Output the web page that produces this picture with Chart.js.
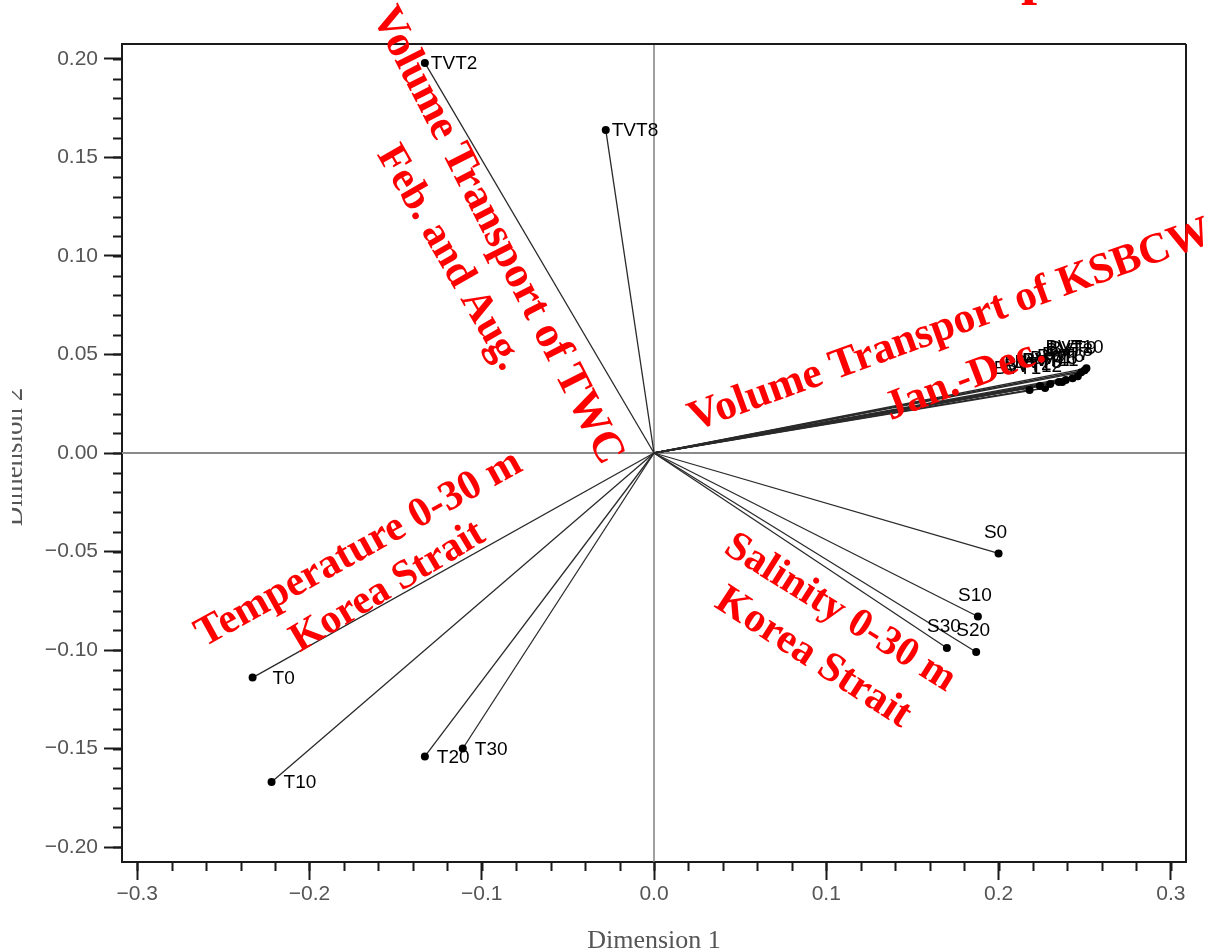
<!DOCTYPE html>
<html>
<head>
<meta charset="utf-8">
<script src="https://cdn.jsdelivr.net/npm/chart.js@4.4.1/dist/chart.umd.min.js"></script>
<style>
  html, body { margin: 0; padding: 0; background: #ffffff; }
  #wrap { width: 1212px; height: 951px; position: relative; }
</style>
</head>
<body>
<div id="wrap"><canvas id="biplot" width="1212" height="951"></canvas></div>
<script>
// Volume transport of the Tsushima Warm Current (Feb. and Aug.)
const twcNames = ['TVT2', 'TVT8'];
const twcDim1  = [-0.133, -0.028];
const twcDim2  = [0.198, 0.164];

// Temperature at 0, 10, 20, 30 m, Korea Strait
const tempNames = ['T0', 'T10', 'T20', 'T30'];
const tempDim1  = [-0.233, -0.222, -0.133, -0.111];
const tempDim2  = [-0.114, -0.167, -0.154, -0.150];

// Salinity at 0, 10, 20, 30 m, Korea Strait
const salNames = ['S0', 'S10', 'S20', 'S30'];
const salDim1  = [0.200, 0.188, 0.187, 0.170];
const salDim2  = [-0.051, -0.083, -0.101, -0.099];

// Volume transport of KSBCW, Jan.-Dec.
const ksbNames = ['BVT1', 'BVT2', 'BVT3', 'BVT4', 'BVT5', 'BVT6',
                  'BVT7', 'BVT8', 'BVT9', 'BVT10', 'BVT11', 'BVT12'];
const ksbDim1  = [0.218, 0.224, 0.230, 0.235, 0.239, 0.243,
                  0.246, 0.248, 0.250, 0.251, 0.237, 0.227];
const ksbDim2  = [0.032, 0.034, 0.035, 0.036, 0.037, 0.038,
                  0.039, 0.041, 0.042, 0.043, 0.036, 0.033];

// Axis ticks
const xTickValues = [-0.3, -0.2, -0.1, 0.0, 0.1, 0.2, 0.3];
const xTickLabels = ['\u22120.3', '\u22120.2', '\u22120.1', '0.0', '0.1', '0.2', '0.3'];
const yTickValues = [-0.20, -0.15, -0.10, -0.05, 0.00, 0.05, 0.10, 0.15, 0.20];
const yTickLabels = ['\u22120.20', '\u22120.15', '\u22120.10', '\u22120.05', '0.00', '0.05', '0.10', '0.15', '0.20'];
const xMinorStep = 0.02;
const yMinorStep = 0.01;
const xRange = [-0.3088, 0.3088];
const yRange = [-0.2076, 0.2076];

// Red annotations laid over the plot
const notes = [
  { text: 'Volume Transport of TWC',    x: 497, y: 236, angle: 63,  size: 44 },
  { text: 'Feb. and Aug.',              x: 449, y: 258, angle: 60,  size: 42 },
  { text: 'Volume Transport of KSBCW',  x: 950, y: 326, angle: -20, size: 43 },
  { text: 'Jan.-Dec.',                  x: 965, y: 380, angle: -21, size: 42 },
  { text: 'Temperature 0-30 m',         x: 359, y: 549, angle: -29, size: 42 },
  { text: 'Korea Strait',               x: 388, y: 587, angle: -31, size: 41 },
  { text: 'Salinity 0-30 m',            x: 840, y: 613, angle: 32,  size: 41 },
  { text: 'Korea Strait',               x: 813, y: 658, angle: 33,  size: 42 }
];

// Build one two-point dataset per variable: origin -> loading
function vectors(names, d1, d2, place) {
  return names.map((n, i) => ({
    label: n,
    data: [{ x: 0, y: 0 }, { x: d1[i], y: d2[i] }],
    place: place
  }));
}

const groups = [
  ...vectors(twcNames, twcDim1, twcDim2, 'right'),
  ...vectors(tempNames, tempDim1, tempDim2, 'rightWide'),
  ...vectors(salNames, salDim1, salDim2, 'above'),
  ...vectors(ksbNames, ksbDim1, ksbDim2, 'aboveLeft')
];

const datasets = groups.map(g => ({
  label: g.label,
  data: g.data,
  place: g.place,
  showLine: true,
  borderColor: '#2a2a2a',
  borderWidth: 1.3,
  pointRadius: ctx => (ctx.dataIndex === 0 ? 0 : 4),
  pointHoverRadius: ctx => (ctx.dataIndex === 0 ? 0 : 4),
  pointBackgroundColor: '#000',
  pointBorderWidth: 0
}));

const labelNudge = { T0: 8 };

// Reference lines at zero, frame, minor ticks
const framePlugin = {
  id: 'frame',
  beforeDatasetsDraw(chart) {
    const { ctx, chartArea: a, scales: { x, y } } = chart;
    const x0 = x.getPixelForValue(0);
    const y0 = y.getPixelForValue(0);
    ctx.save();
    ctx.strokeStyle = '#8a8a8a';
    ctx.lineWidth = 2;
    ctx.beginPath();
    ctx.moveTo(a.left, y0); ctx.lineTo(a.right, y0);
    ctx.stroke();
    ctx.strokeStyle = '#808080';
    ctx.lineWidth = 1.5;
    ctx.beginPath();
    ctx.moveTo(x0, a.top); ctx.lineTo(x0, a.bottom);
    ctx.stroke();
    ctx.restore();
  },
  afterDraw(chart) {
    const { ctx, chartArea: a, scales: { x, y } } = chart;
    ctx.save();
    ctx.strokeStyle = '#1a1a1a';
    ctx.lineWidth = 2;
    ctx.beginPath();
    ctx.moveTo(a.left, a.top); ctx.lineTo(a.right, a.top);
    ctx.moveTo(a.right, a.top); ctx.lineTo(a.right, a.bottom);
    ctx.stroke();
    // minor ticks
    ctx.beginPath();
    for (let v = Math.ceil(xRange[0] / xMinorStep) * xMinorStep; v <= xRange[1] + 1e-9; v += xMinorStep) {
      const px = Math.round(x.getPixelForValue(v)) + 0.5;
      ctx.moveTo(px, a.bottom); ctx.lineTo(px, a.bottom + 9);
    }
    for (let v = Math.ceil(yRange[0] / yMinorStep) * yMinorStep; v <= yRange[1] + 1e-9; v += yMinorStep) {
      const py = Math.round(y.getPixelForValue(v)) + 0.5;
      ctx.moveTo(a.left, py); ctx.lineTo(a.left - 9, py);
    }
    ctx.stroke();

    // left axis title, cut by the image edge
    ctx.save();
    ctx.beginPath();
    ctx.rect(12, 0, 200, chart.height);
    ctx.clip();
    ctx.translate(22, 457);
    ctx.rotate(-Math.PI / 2);
    ctx.fillStyle = '#555';
    ctx.font = '27px "Liberation Serif"';
    ctx.textAlign = 'center';
    ctx.textBaseline = 'alphabetic';
    ctx.fillText('Dimension 2', 0, 0);
    ctx.restore();
    ctx.restore();
  }
};

// Variable names next to loading points
const labelPlugin = {
  id: 'pointNames',
  afterDatasetsDraw(chart) {
    const { ctx } = chart;
    ctx.save();
    ctx.fillStyle = '#000';
    ctx.font = '19px "Liberation Sans"';
    chart.data.datasets.forEach((ds, i) => {
      const pt = chart.getDatasetMeta(i).data[1];
      const nud = labelNudge[ds.label] || 0;
      if (ds.place === 'above' || ds.place === 'aboveLeft') {
        ctx.textAlign = 'center';
        ctx.textBaseline = 'middle';
        const dx = ds.place === 'aboveLeft' ? -12 : -3;
        ctx.fillText(ds.label, pt.x + dx, pt.y - 21);
      } else if (ds.place === 'rightWide') {
        ctx.textAlign = 'left';
        ctx.textBaseline = 'middle';
        ctx.fillText(ds.label, pt.x + 12 + nud, pt.y + 1);
      } else {
        ctx.textAlign = 'left';
        ctx.textBaseline = 'middle';
        ctx.fillText(ds.label, pt.x + 6, pt.y + 1);
      }
    });
    ctx.restore();
  }
};

// Red notes
const notePlugin = {
  id: 'notes',
  afterDraw(chart) {
    const { ctx } = chart;
    ctx.save();
    ctx.fillStyle = '#ff0000';
    ctx.textAlign = 'center';
    ctx.textBaseline = 'middle';
    notes.forEach(n => {
      ctx.save();
      ctx.translate(n.x, n.y);
      ctx.rotate(n.angle * Math.PI / 180);
      ctx.font = 'bold ' + n.size + 'px "Liberation Serif"';
      ctx.fillText(n.text, 0, 0);
      ctx.restore();
    });
    // descender of a heading running above the frame
    ctx.font = 'bold 58px "Liberation Serif"';
    ctx.textAlign = 'left';
    ctx.textBaseline = 'alphabetic';
    ctx.fillText('p', 1021, -7);
    ctx.restore();
  }
};

new Chart(document.getElementById('biplot'), {
  type: 'scatter',
  data: { datasets },
  options: {
    responsive: false,
    animation: false,
    events: [],
    layout: { padding: { top: 44, right: 26, left: 0, bottom: 0 } },
    plugins: { legend: { display: false }, tooltip: { enabled: false } },
    scales: {
      x: {
        type: 'linear',
        min: xRange[0],
        max: xRange[1],
        afterBuildTicks: s => { s.ticks = xTickValues.map(v => ({ value: v })); },
        afterFit: s => { s.height = 89; },
        ticks: {
          callback: (v, i) => xTickLabels[i],
          font: { family: 'Liberation Sans', size: 21 },
          color: '#555',
          padding: 2,
          maxRotation: 0,
          autoSkip: false
        },
        grid: { drawOnChartArea: false, drawTicks: true, tickLength: 18, tickColor: '#1a1a1a', tickWidth: 2 },
        border: { display: true, color: '#1a1a1a', width: 2 },
        title: {
          display: true,
          text: 'Dimension 1',
          font: { family: 'Liberation Serif', size: 26 },
          color: '#555',
          padding: { top: 0, bottom: -6 }
        }
      },
      y: {
        type: 'linear',
        min: yRange[0],
        max: yRange[1],
        afterBuildTicks: s => { s.ticks = yTickValues.map(v => ({ value: v })); },
        afterFit: s => { s.width = 122; },
        ticks: {
          callback: (v, i) => yTickLabels[i],
          font: { family: 'Liberation Sans', size: 21 },
          color: '#555',
          padding: 6,
          autoSkip: false
        },
        grid: { drawOnChartArea: false, drawTicks: true, tickLength: 18, tickColor: '#1a1a1a', tickWidth: 2 },
        border: { display: true, color: '#1a1a1a', width: 2 },
        title: { display: false }
      }
    }
  },
  plugins: [framePlugin, labelPlugin, notePlugin]
});
</script>
</body>
</html>
